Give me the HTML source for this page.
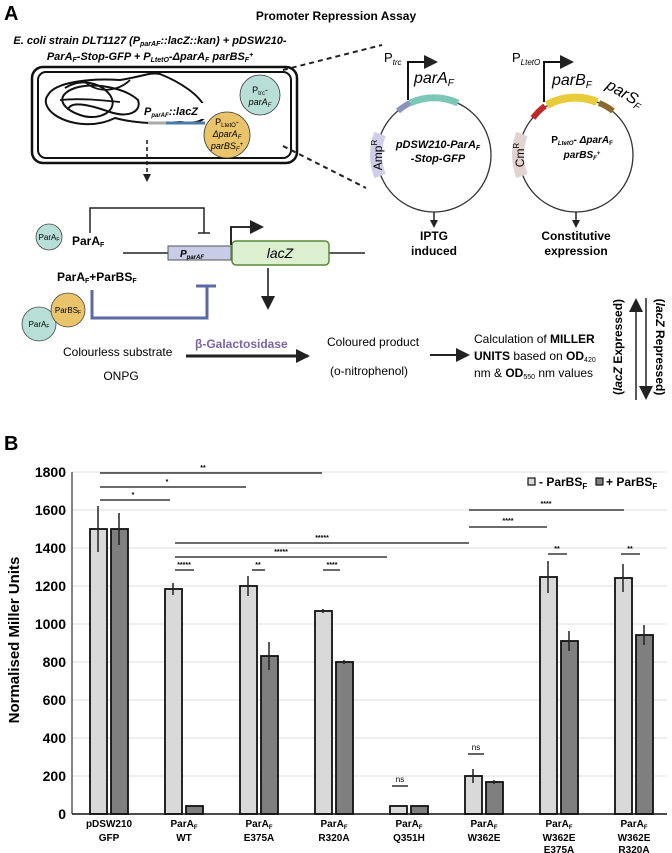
<!DOCTYPE html>
<html><head><meta charset="utf-8"><style>
html,body{margin:0;padding:0;background:#fff}
svg{display:block;font-family:"Liberation Sans",sans-serif}
</style></head><body>
<svg width="672" height="853" viewBox="0 0 672 853" xmlns="http://www.w3.org/2000/svg">
<defs>
<marker id="ah" markerWidth="8" markerHeight="8" refX="6" refY="4" orient="auto" markerUnits="userSpaceOnUse"><path d="M0,0 L8,4 L0,8 z" fill="#222"/></marker>
<marker id="ahb" markerWidth="14" markerHeight="14" refX="12" refY="7" orient="auto" markerUnits="userSpaceOnUse"><path d="M0,0 L14,7 L0,14 z" fill="#222"/></marker>
</defs>
<text x="4" y="20" font-size="20" font-weight="bold">A</text>
<text x="336" y="20" font-size="12" font-weight="bold" text-anchor="middle">Promoter Repression Assay</text>
<text x="150" y="44" font-size="11" font-weight="bold" font-style="italic" text-anchor="middle">E. coli strain DLT1127 (P<tspan font-size="7" dy="2">parAF</tspan><tspan dy="-2">::lacZ::kan) + pDSW210-</tspan></text>
<text x="150" y="60" font-size="11" font-weight="bold" font-style="italic" text-anchor="middle">ParA<tspan font-size="7" dy="2">F</tspan><tspan dy="-2">-Stop-GFP + P</tspan><tspan font-size="7" dy="2">LtetO</tspan><tspan dy="-2">-ΔparA</tspan><tspan font-size="7" dy="2">F</tspan><tspan dy="-2"> parBS</tspan><tspan font-size="7" dy="2">F</tspan><tspan font-size="7" dy="-5">+</tspan></text>
<!-- cell -->
<rect x="32" y="67" width="265" height="96" rx="11" fill="none" stroke="#111" stroke-width="2.5"/>
<rect x="38" y="72" width="253" height="86" rx="8" fill="none" stroke="#111" stroke-width="2"/>
<path d="M48,95 C55,82 90,78 120,80 C145,76 150,72 160,74 C180,82 200,95 205,108 C210,118 200,125 180,122 C150,125 130,122 115,118 C95,128 70,125 55,115 C45,108 44,100 48,95 Z" fill="none" stroke="#111" stroke-width="2"/>
<path d="M65,88 C80,78 100,82 110,95 C120,110 100,122 80,115 C60,108 55,95 75,88 C95,82 125,88 138,100 C142,112 128,118 110,112 C90,105 70,100 68,110" fill="none" stroke="#111" stroke-width="2"/>
<path d="M85,82 C100,95 120,90 130,80 M60,100 C80,98 100,100 120,102" fill="none" stroke="#111" stroke-width="1.8"/>
<rect x="142" y="103" width="66" height="16" fill="#fff"/>
<text x="144" y="115" font-size="11" font-weight="bold" font-style="italic">P<tspan font-size="6" dy="2">parAF</tspan><tspan dy="-2">::lacZ</tspan></text>
<line x1="148" y1="123" x2="166" y2="123" stroke="#aaa" stroke-width="3"/>
<line x1="166" y1="123" x2="205" y2="123" stroke="#4a7aa8" stroke-width="3"/>
<circle cx="260" cy="95" r="20" fill="#b7dfd8" stroke="#333" stroke-width="0.8"/>
<text x="260" y="93" font-size="9" text-anchor="middle">P<tspan font-size="6" dy="2">trc</tspan><tspan dy="-2">-</tspan></text>
<text x="260" y="105" font-size="9" font-style="italic" text-anchor="middle">parA<tspan font-size="6" dy="2">F</tspan></text>
<circle cx="227" cy="135" r="23" fill="#e9c46a" stroke="#333" stroke-width="0.8"/>
<text x="227" y="125" font-size="9" text-anchor="middle">P<tspan font-size="6" dy="2">LtetO</tspan><tspan dy="-2">-</tspan></text>
<text x="227" y="137" font-size="9" font-style="italic" text-anchor="middle">ΔparA<tspan font-size="6" dy="2">F</tspan></text>
<text x="227" y="149" font-size="9" font-style="italic" text-anchor="middle">parBS<tspan font-size="6" dy="2">F</tspan><tspan font-size="6" dy="-5">+</tspan></text>
<line x1="147" y1="140" x2="147" y2="180" stroke="#222" stroke-width="1.6" stroke-dasharray="4,3" marker-end="url(#ah)"/>
<line x1="283" y1="70" x2="382" y2="45" stroke="#222" stroke-width="2" stroke-dasharray="5,4"/>
<line x1="283" y1="146" x2="366" y2="188" stroke="#222" stroke-width="2" stroke-dasharray="5,4"/>
<!-- plasmid 1 -->
<circle cx="434" cy="155" r="57" fill="none" stroke="#333" stroke-width="1.3"/>
<path d="M398,111 A57,57 0 0 1 410,103" stroke="#8a94b8" stroke-width="6" fill="none"/>
<path d="M410,103 A57,57 0 0 1 458,103" stroke="#7cc7b8" stroke-width="7" fill="none"/>
<path d="M380,134 A57,57 0 0 0 380,176" stroke="#cfcde8" stroke-width="12" fill="none"/>
<text transform="translate(382,155) rotate(-90)" font-size="12" text-anchor="middle">Amp<tspan font-size="8" dy="-5">R</tspan></text>
<polyline points="408,100 408,62 436,62" fill="none" stroke="#111" stroke-width="2" marker-end="url(#ahb)"/>
<text x="384" y="62" font-size="13">P<tspan font-size="8" dy="3" font-style="italic">trc</tspan></text>
<text x="414" y="83" font-size="16" font-style="italic">parA<tspan font-size="10" dy="3">F</tspan></text>
<text x="438" y="148" font-size="11" font-weight="bold" font-style="italic" text-anchor="middle">pDSW210-ParA<tspan font-size="7" dy="2">F</tspan></text>
<text x="438" y="162" font-size="11" font-weight="bold" font-style="italic" text-anchor="middle">-Stop-GFP</text>
<line x1="434" y1="212" x2="434" y2="226" stroke="#222" stroke-width="1.5" marker-end="url(#ah)"/>
<text x="434" y="240" font-size="12" font-weight="bold" text-anchor="middle">IPTG</text>
<text x="434" y="255" font-size="12" font-weight="bold" text-anchor="middle">induced</text>
<!-- plasmid 2 -->
<circle cx="576" cy="155" r="57" fill="none" stroke="#333" stroke-width="1.3"/>
<path d="M533,118 A57,57 0 0 1 545,106" stroke="#c0282a" stroke-width="6" fill="none"/>
<path d="M547,105 A57,57 0 0 1 597,102" stroke="#e8cc3a" stroke-width="8" fill="none"/>
<path d="M599,103 A57,57 0 0 1 613,111" stroke="#8c6a2e" stroke-width="6" fill="none"/>
<path d="M522,134 A57,57 0 0 0 522,176" stroke="#e2d3d0" stroke-width="12" fill="none"/>
<text transform="translate(524,155) rotate(-90)" font-size="12" text-anchor="middle">Cm<tspan font-size="8" dy="-5">R</tspan></text>
<polyline points="544,102 544,62 572,62" fill="none" stroke="#111" stroke-width="2" marker-end="url(#ahb)"/>
<text x="512" y="62" font-size="13">P<tspan font-size="8" dy="3" font-style="italic">LtetO</tspan></text>
<text x="552" y="85" font-size="16" font-style="italic">parB<tspan font-size="10" dy="3">F</tspan></text>
<text transform="translate(605,88) rotate(30)" font-size="16" font-style="italic">parS<tspan font-size="10" dy="3">F</tspan></text>
<text x="582" y="143" font-size="10" font-weight="bold" text-anchor="middle">P<tspan font-size="6" dy="2" font-style="italic">LtetO</tspan><tspan dy="-2" font-style="italic">- ΔparA</tspan><tspan font-size="6" dy="2">F</tspan></text>
<text x="582" y="158" font-size="10" font-weight="bold" font-style="italic" text-anchor="middle">parBS<tspan font-size="6" dy="2">F</tspan><tspan font-size="6" dy="-5">+</tspan></text>
<line x1="576" y1="212" x2="576" y2="226" stroke="#222" stroke-width="1.5" marker-end="url(#ah)"/>
<text x="576" y="240" font-size="12" font-weight="bold" text-anchor="middle">Constitutive</text>
<text x="576" y="255" font-size="12" font-weight="bold" text-anchor="middle">expression</text>
<!-- operon -->
<polyline points="90,233 90,208 204,208 204,233" fill="none" stroke="#222" stroke-width="1.5"/>
<line x1="198" y1="233" x2="210" y2="233" stroke="#222" stroke-width="1.5"/>
<circle cx="49" cy="237" r="13" fill="#b7dfd8" stroke="#444" stroke-width="0.8"/>
<text x="49" y="240" font-size="8" text-anchor="middle">ParA<tspan font-size="5" dy="1">F</tspan></text>
<text x="72" y="245" font-size="12" font-weight="bold">ParA<tspan font-size="7" dy="2">F</tspan></text>
<line x1="123" y1="253" x2="365" y2="253" stroke="#222" stroke-width="1.5"/>
<rect x="168" y="246" width="63" height="14" fill="#c8cce6" stroke="#555" stroke-width="1"/>
<text x="192" y="257" font-size="10" font-weight="bold" font-style="italic" text-anchor="middle">P<tspan font-size="6" dy="2">parAF</tspan></text>
<rect x="232" y="241" width="97" height="24" rx="4" fill="#dcefcf" stroke="#5a8a3a" stroke-width="1.5"/>
<text x="280" y="258" font-size="14" font-style="italic" text-anchor="middle">lacZ</text>
<polyline points="231,245 231,227 262,227" fill="none" stroke="#111" stroke-width="1.8" marker-end="url(#ahb)"/>
<line x1="268" y1="268" x2="268" y2="308" stroke="#222" stroke-width="1.6" marker-end="url(#ahb)"/>
<text x="57" y="281" font-size="12" font-weight="bold">ParA<tspan font-size="7" dy="2">F</tspan><tspan dy="-2">+ParBS</tspan><tspan font-size="7" dy="2">F</tspan></text>
<polyline points="92,290 92,318 207,318 207,286" fill="none" stroke="#5b6aa5" stroke-width="3"/>
<line x1="196" y1="286" x2="216" y2="286" stroke="#5b6aa5" stroke-width="3"/>
<circle cx="39" cy="324" r="17" fill="#b7dfd8" stroke="#444" stroke-width="0.8"/>
<text x="39" y="327" font-size="8" text-anchor="middle">ParA<tspan font-size="5" dy="1">F</tspan></text>
<circle cx="68" cy="310" r="17" fill="#e9c46a" stroke="#444" stroke-width="0.8"/>
<text x="68" y="313" font-size="8" text-anchor="middle">ParBS<tspan font-size="5" dy="1">F</tspan></text>
<!-- reaction -->
<text x="63" y="356" font-size="12">Colourless substrate</text>
<text x="121" y="380" font-size="12" text-anchor="middle">ONPG</text>
<line x1="186" y1="356" x2="308" y2="356" stroke="#222" stroke-width="3" marker-end="url(#ahb)"/>
<text x="195" y="348" font-size="12" font-weight="bold" fill="#7a64a8">β-Galactosidase</text>
<text x="327" y="346" font-size="12">Coloured product</text>
<text x="330" y="375" font-size="12">(o-nitrophenol)</text>
<line x1="430" y1="355" x2="468" y2="355" stroke="#222" stroke-width="2" marker-end="url(#ahb)"/>
<text x="474" y="343" font-size="12">Calculation of <tspan font-weight="bold">MILLER</tspan></text>
<text x="474" y="360" font-size="12"><tspan font-weight="bold">UNITS</tspan> based on <tspan font-weight="bold">OD</tspan><tspan font-size="7" dy="2">420</tspan></text>
<text x="474" y="377" font-size="12">nm &amp; <tspan font-weight="bold">OD</tspan><tspan font-size="7" dy="2">550</tspan><tspan dy="-2"> nm values</tspan></text>
<text transform="translate(622,347) rotate(-90)" font-size="12" font-weight="bold" text-anchor="middle">(<tspan font-style="italic">lacZ</tspan> Expressed)</text>
<line x1="636" y1="400" x2="636" y2="300" stroke="#222" stroke-width="1.5" marker-end="url(#ahb)"/>
<line x1="646" y1="298" x2="646" y2="398" stroke="#222" stroke-width="1.5" marker-end="url(#ahb)"/>
<text transform="translate(656,347) rotate(90)" font-size="12" font-weight="bold" text-anchor="middle">(<tspan font-style="italic">lacZ</tspan> Repressed)</text>
<!-- B -->
<text x="4" y="450" font-size="20" font-weight="bold">B</text>
<g stroke="#ddd" stroke-width="1">
<line x1="72" y1="472" x2="667" y2="472"/><line x1="72" y1="510" x2="667" y2="510"/><line x1="72" y1="548" x2="667" y2="548"/><line x1="72" y1="586" x2="667" y2="586"/><line x1="72" y1="624" x2="667" y2="624"/><line x1="72" y1="662" x2="667" y2="662"/><line x1="72" y1="700" x2="667" y2="700"/><line x1="72" y1="738" x2="667" y2="738"/><line x1="72" y1="776" x2="667" y2="776"/>
</g>
<g font-size="14" font-weight="bold" text-anchor="end">
<text x="66" y="477">1800</text><text x="66" y="515">1600</text><text x="66" y="553">1400</text><text x="66" y="591">1200</text><text x="66" y="629">1000</text><text x="66" y="667">800</text><text x="66" y="705">600</text><text x="66" y="743">400</text><text x="66" y="781">200</text><text x="66" y="819">0</text>
</g>
<text transform="translate(19,640) rotate(-90)" font-size="15" font-weight="bold" text-anchor="middle">Normalised Miller Units</text>
<line x1="72" y1="472" x2="72" y2="814" stroke="#333" stroke-width="1.2"/>
<g stroke="#111" stroke-width="1.8">
<rect x="90" y="529" width="17" height="285" fill="#d9d9d9"/><rect x="111" y="529" width="17" height="285" fill="#7f7f7f"/>
<rect x="165" y="589" width="17" height="225" fill="#d9d9d9"/><rect x="186" y="806" width="17" height="8" fill="#7f7f7f"/>
<rect x="240" y="586" width="17" height="228" fill="#d9d9d9"/><rect x="261" y="656" width="17" height="158" fill="#7f7f7f"/>
<rect x="315" y="611" width="17" height="203" fill="#d9d9d9"/><rect x="336" y="662" width="17" height="152" fill="#7f7f7f"/>
<rect x="390" y="806" width="17" height="8" fill="#d9d9d9"/><rect x="411" y="806" width="17" height="8" fill="#7f7f7f"/>
<rect x="465" y="776" width="17" height="38" fill="#d9d9d9"/><rect x="486" y="782" width="17" height="32" fill="#7f7f7f"/>
<rect x="540" y="577" width="17" height="237" fill="#d9d9d9"/><rect x="561" y="641" width="17" height="173" fill="#7f7f7f"/>
<rect x="615" y="578" width="17" height="236" fill="#d9d9d9"/><rect x="636" y="635" width="17" height="179" fill="#7f7f7f"/>
</g>
<line x1="72" y1="814" x2="667" y2="814" stroke="#111" stroke-width="1.5"/>
<g stroke="#222" stroke-width="1.5">
<line x1="98" y1="506" x2="98" y2="552"/><line x1="119" y1="513" x2="119" y2="545"/>
<line x1="173" y1="583" x2="173" y2="595"/>
<line x1="248" y1="576" x2="248" y2="596"/><line x1="269" y1="642" x2="269" y2="670"/>
<line x1="323" y1="609" x2="323" y2="613"/><line x1="344" y1="660" x2="344" y2="664"/>
<line x1="473" y1="769" x2="473" y2="783"/><line x1="494" y1="780" x2="494" y2="784"/>
<line x1="548" y1="561" x2="548" y2="593"/><line x1="569" y1="631" x2="569" y2="651"/>
<line x1="623" y1="564" x2="623" y2="592"/><line x1="644" y1="625" x2="644" y2="645"/>
</g>
<g stroke="#111" stroke-width="1.3">
<line x1="100" y1="473" x2="322" y2="473"/><line x1="100" y1="487" x2="246" y2="487"/><line x1="100" y1="500" x2="170" y2="500"/>
<line x1="175" y1="543" x2="469" y2="543"/><line x1="175" y1="557" x2="387" y2="557"/>
<line x1="175" y1="570" x2="194" y2="570"/><line x1="252" y1="570" x2="265" y2="570"/><line x1="323" y1="570" x2="340" y2="570"/>
<line x1="469" y1="510" x2="624" y2="510"/><line x1="469" y1="527" x2="547" y2="527"/>
<line x1="548" y1="554" x2="567" y2="554"/><line x1="621" y1="554" x2="640" y2="554"/>
<line x1="392" y1="786" x2="408" y2="786"/><line x1="468" y1="754" x2="484" y2="754"/>
</g>
<g font-size="7" text-anchor="middle" font-weight="bold">
<text x="203" y="470">**</text><text x="167" y="484">*</text><text x="133" y="497">*</text>
<text x="322" y="540">*****</text><text x="281" y="554">*****</text><text x="184" y="567">*****</text><text x="258" y="567">**</text><text x="332" y="567">****</text>
<text x="546" y="506">****</text><text x="508" y="523">****</text><text x="557" y="551">**</text><text x="630" y="551">**</text>
</g>
<g font-size="8" text-anchor="middle"><text x="400" y="782">ns</text><text x="476" y="750">ns</text></g>
<rect x="528" y="478" width="7" height="7" fill="#d9d9d9" stroke="#111" stroke-width="1.2"/>
<text x="539" y="486" font-size="12" font-weight="bold">- ParBS<tspan font-size="8" dy="3">F</tspan></text>
<rect x="596" y="478" width="7" height="7" fill="#7f7f7f" stroke="#111" stroke-width="1.2"/>
<text x="606" y="486" font-size="12" font-weight="bold">+ ParBS<tspan font-size="8" dy="3">F</tspan></text>
<g font-size="10" font-weight="bold" text-anchor="middle">
<text x="109" y="827">pDSW210</text><text x="109" y="841">GFP</text>
<text x="184" y="827">ParA<tspan font-size="6" dy="2">F</tspan></text><text x="184" y="841">WT</text>
<text x="259" y="827">ParA<tspan font-size="6" dy="2">F</tspan></text><text x="259" y="841">E375A</text>
<text x="334" y="827">ParA<tspan font-size="6" dy="2">F</tspan></text><text x="334" y="841">R320A</text>
<text x="409" y="827">ParA<tspan font-size="6" dy="2">F</tspan></text><text x="409" y="841">Q351H</text>
<text x="484" y="827">ParA<tspan font-size="6" dy="2">F</tspan></text><text x="484" y="841">W362E</text>
<text x="559" y="827">ParA<tspan font-size="6" dy="2">F</tspan></text><text x="559" y="841">W362E</text><text x="559" y="853">E375A</text>
<text x="634" y="827">ParA<tspan font-size="6" dy="2">F</tspan></text><text x="634" y="841">W362E</text><text x="634" y="853">R320A</text>
</g>
</svg>
</body></html>
